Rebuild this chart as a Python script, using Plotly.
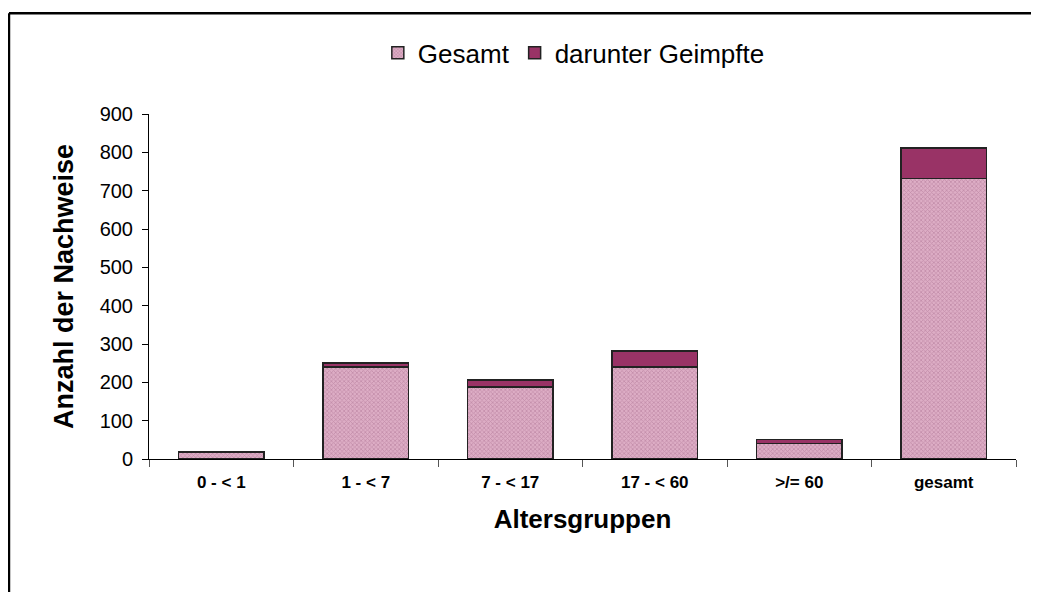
import plotly.graph_objects as go

# Altersgruppen und Werte
gruppen = ["0 - < 1", "1 - < 7", "7 - < 17", "17 - < 60", ">/= 60", "gesamt"]
gesamt = [18, 240, 188, 240, 41, 732]
geimpfte = [1, 10, 18, 42, 10, 79]

fig = go.Figure()

fig.add_trace(go.Bar(
    x=gruppen, y=gesamt, name="Gesamt",
    marker=dict(
        color="#D6A3BD",
        line=dict(color="#222222", width=1.5),
        pattern=dict(shape="x", size=3, solidity=0.45, fgcolor="#A86E8E", bgcolor="#DDADC5"),
    ),
))
fig.add_trace(go.Bar(
    x=gruppen, y=geimpfte, name="darunter Geimpfte",
    marker=dict(color="#993366", line=dict(color="#222222", width=1.5)),
))

fig.update_layout(
    barmode="stack",
    bargap=0.407,
    width=1039, height=592,
    margin=dict(l=141, r=31, t=106, b=141),
    plot_bgcolor="white", paper_bgcolor="white",
    font=dict(family="Liberation Sans, Arial, sans-serif", color="black"),
    legend=dict(
        orientation="h", x=0.49, y=1.177, xanchor="center", yanchor="middle",
        font=dict(size=26), traceorder="normal", itemwidth=30,
    ),
    xaxis=dict(
        title=dict(text="<b>Altersgruppen</b>", font=dict(size=26), standoff=18),
        tickfont=dict(size=17), ticklabelstandoff=8,
        tickvals=gruppen, ticktext=["<b>%s</b>" % g for g in gruppen],
        showline=True, linecolor="black", linewidth=1,
        ticks="outside", tickson="boundaries", ticklen=7, tickcolor="#555555",
        showgrid=False, zeroline=False,
    ),
    yaxis=dict(
        title=dict(text="<b>Anzahl der Nachweise</b>", font=dict(size=27), standoff=18),
        range=[0, 900], dtick=100, tickfont=dict(size=20), ticklabelstandoff=5,
        showline=True, linecolor="black", linewidth=1,
        ticks="outside", ticklen=6, tickcolor="black",
        showgrid=False, zeroline=False,
    ),
    shapes=[
        dict(type="line", xref="paper", yref="paper", x0=-0.1615, x1=1.1, y0=1.292, y1=1.292,
             line=dict(color="black", width=2.5)),
        dict(type="line", xref="paper", yref="paper", x0=-0.1615, x1=-0.1615, y0=1.292, y1=-0.5,
             line=dict(color="black", width=2.5)),
    ],
)

fig.write_html("out.html")
